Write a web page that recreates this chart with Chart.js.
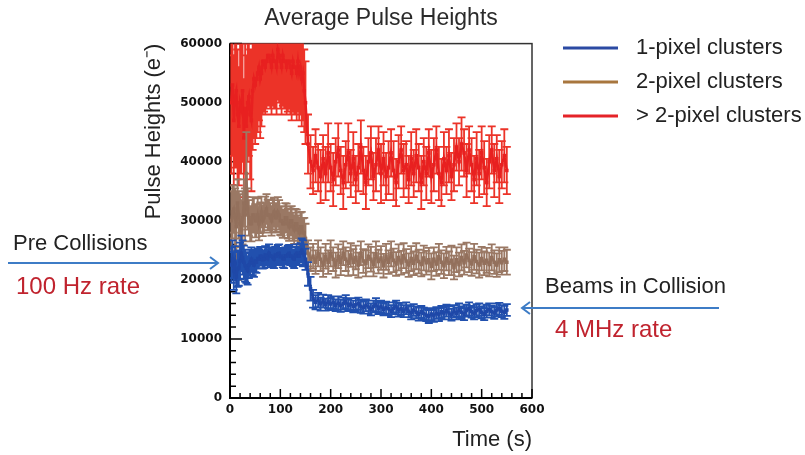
<!DOCTYPE html>
<html>
<head>
<meta charset="utf-8">
<script src="https://cdn.jsdelivr.net/npm/chart.js@4.4.0/dist/chart.umd.min.js"></script>
<style>
  html, body { margin: 0; padding: 0; background: #fff; }
  #wrap { width: 805px; height: 455px; }
</style>
</head>
<body>
<div id="wrap"><canvas id="pulseChart" width="805" height="455"></canvas></div>
<script>
// time bins (s): finer before collisions, 5 s after
const times = [
  2.5, 5, 7.5, 10, 12.5, 15, 17.5, 20, 22.5, 25,
  27.5, 30, 32.5, 35, 37.5, 40, 42.5, 45, 47.5, 50,
  52.5, 55, 57.5, 60, 62.5, 65, 67.5, 70, 72.5, 75,
  77.5, 80, 82.5, 85, 87.5, 90, 92.5, 95, 97.5, 100,
  102.5, 105, 107.5, 110, 112.5, 115, 117.5, 120, 122.5, 125,
  127.5, 130, 132.5, 135, 137.5, 140, 142.5, 145, 147.5, 150,
  155, 160, 165, 170, 175, 180, 185, 190, 195, 200,
  205, 210, 215, 220, 225, 230, 235, 240, 245, 250,
  255, 260, 265, 270, 275, 280, 285, 290, 295, 300,
  305, 310, 315, 320, 325, 330, 335, 340, 345, 350,
  355, 360, 365, 370, 375, 380, 385, 390, 395, 400,
  405, 410, 415, 420, 425, 430, 435, 440, 445, 450,
  455, 460, 465, 470, 475, 480, 485, 490, 495, 500,
  505, 510, 515, 520, 525, 530, 535, 540, 545, 550
];

// 1-pixel clusters
const onePixel = [
  22500, 23500, 21500, 22800, 20500, 21800, 22000, 23200, 24500, 23800,
  23000, 22400, 22000, 21600, 22500, 23000, 23500, 22800, 22500, 23200,
  23000, 23600, 23500, 24000, 24000, 23400, 23500, 24200, 24000, 23600,
  24500, 24100, 24000, 23800, 23500, 24200, 24000, 24400, 24500, 23900,
  24000, 23600, 23500, 24100, 24000, 24300, 24500, 24000, 24000, 23700,
  23500, 24200, 24500, 24000, 24000, 24600, 25000, 24500, 24200, 23500,
  21000, 18500, 16800, 16200, 16600, 15900, 16400, 15800, 16300, 15900,
  16200, 15700, 16100, 15600, 16000, 16300, 15700, 15900, 15500, 15800,
  16000, 15500, 15300, 15700, 15400, 15000, 15500, 15800, 15200, 15500,
  15000, 15300, 15100, 14700, 15200, 15500, 14900, 15100, 14700, 15200,
  14700, 14400, 14900, 14500, 14200, 14600, 14300, 14000, 13800, 14200,
  13900, 14400, 14100, 14600, 14300, 14800, 14400, 14100, 14700, 14300,
  14900, 14500, 14200, 14800, 15100, 14600, 14300, 14800, 15000, 14500,
  14200, 14700, 15000, 14600, 14400, 14900, 15100, 14700, 14500, 14900
];
const onePixelErr = [
  3000, 3200, 3200, 2900, 2800, 3000, 3000, 3100, 3000, 2900,
  2800, 2700, 2500, 2400, 2200, 2100, 2000, 2000, 2000, 1900,
  1800, 1700, 1600, 1600, 1600, 1500, 1500, 1500, 1500, 1500,
  1500, 1400, 1400, 1500, 1500, 1400, 1400, 1500, 1500, 1400,
  1400, 1500, 1500, 1400, 1400, 1500, 1400, 1500, 1500, 1400,
  1500, 1400, 1500, 1500, 1400, 1600, 2000, 2200, 1800, 1800,
  2000, 2000, 1500, 1200, 1200, 1100, 1100, 1000, 1100, 1000,
  1000, 1000, 1100, 1000, 1000, 1100, 1000, 1000, 1000, 1100,
  1000, 1100, 1000, 1000, 1100, 1000, 1000, 1100, 1000, 1000,
  1000, 1000, 1100, 1000, 1000, 1000, 1100, 1000, 1000, 1000,
  1000, 1100, 1000, 1000, 1100, 1000, 1000, 1000, 1100, 1000,
  1000, 1000, 1100, 1000, 1000, 1000, 1100, 1000, 1000, 1000,
  1100, 1000, 1000, 1000, 1100, 1000, 1000, 1100, 1000, 1000,
  1000, 1100, 1000, 1000, 1000, 1100, 1000, 1000, 1100, 1000
];

// 2-pixel clusters
const twoPixel = [
  30000, 31500, 32000, 30500, 29000, 33000, 31000, 29500, 28500, 30500,
  33000, 31000, 38000, 32000, 30500, 29500, 29500, 31000, 31000, 30000,
  30000, 31000, 29500, 30500, 31500, 30000, 30500, 31500, 32000, 31000,
  31000, 30500, 30000, 31000, 31500, 30500, 30500, 31500, 31000, 30000,
  30000, 29500, 29500, 30500, 30500, 29500, 29000, 30000, 30000, 29000,
  28500, 29500, 29500, 28500, 28000, 29000, 29000, 28000, 28000, 27000,
  24500, 23500, 24000, 23000, 24500, 23500, 22500, 24000, 23000, 24500,
  23500, 22500, 24000, 23000, 24500, 23500, 22800, 24200, 23000, 23800,
  22500, 24500, 23200, 22800, 24000, 23500, 22600, 24300, 23100, 23700,
  22400, 23900, 23000, 24400, 23300, 22700, 23800, 22900, 24100, 23200,
  22500, 23600, 22800, 24000, 23100, 22600, 23700, 22900, 23400, 22300,
  23500, 22700, 23900, 23000, 22400, 23600, 22800, 23300, 22100, 23400,
  22600, 23800, 22900, 24200, 23300, 22700, 23900, 23100, 22500, 23600,
  22800, 23300, 22600, 23800, 23000, 22500, 23400, 22900, 23500, 23000
];
const twoPixelErr = [
  5000, 4500, 4000, 5000, 6000, 4000, 4000, 5000, 5000, 4500,
  4000, 4500, 7000, 3500, 3000, 3000, 3000, 3000, 3000, 2800,
  2800, 2800, 2800, 2600, 2600, 2600, 2500, 2600, 2500, 2600,
  2600, 2500, 2500, 2500, 2400, 2500, 2400, 2500, 2500, 2400,
  2500, 2400, 2400, 2500, 2400, 2500, 2400, 2400, 2500, 2400,
  2400, 2500, 2400, 2400, 2500, 2400, 2500, 2400, 2500, 2500,
  2200, 2000, 2100, 2000, 2200, 2000, 2000, 2100, 2000, 2200,
  2000, 2100, 2000, 2200, 2000, 2000, 2100, 2000, 2200, 2000,
  2100, 2000, 2000, 2200, 2000, 2100, 2000, 2200, 2000, 2000,
  2000, 2200, 2000, 2100, 2000, 2000, 2200, 2000, 2100, 2000,
  2000, 2100, 2000, 2200, 2000, 2000, 2100, 2000, 2000, 2200,
  2000, 2000, 2200, 2000, 2100, 2000, 2000, 2500, 2000, 2100,
  2000, 2200, 2000, 2100, 2000, 2000, 2200, 2000, 2100, 2000,
  2000, 2100, 2000, 2200, 2000, 2000, 2100, 2000, 2000, 2100
];

// > 2-pixel clusters
const multiPixel = [
  50000, 53000, 47000, 51000, 52000, 48000, 46000, 50000, 49000, 52000,
  44000, 49000, 46000, 50000, 51000, 48000, 47000, 52000, 54000, 53000,
  54000, 55000, 56000, 54000, 55000, 57000, 57000, 56000, 57000, 58000,
  58000, 57000, 56000, 58000, 57000, 57000, 56000, 59000, 58000, 57000,
  56000, 58000, 57000, 57000, 56000, 57000, 57000, 56000, 55000, 57000,
  56000, 56000, 55000, 57000, 55000, 56000, 54000, 55000, 52000, 50000,
  43000, 40000, 38500, 41000, 39000, 37500, 40500, 38000, 41500, 39000,
  37000, 40000, 42000, 38500, 36500, 39500, 41500, 38000, 40500, 37000,
  39000, 42500, 38500, 36500, 40000, 41500, 37500, 39500, 42000, 38000,
  40500, 37500, 39000, 41500, 38500, 36500, 40000, 42000, 38500, 39500,
  37000, 40500, 38000, 41000, 39000, 36500, 40000, 38000, 41500, 37500,
  39500, 42000, 38000, 36500, 40500, 38500, 41000, 37500, 39500, 42500,
  40000, 43000, 41500, 38500, 42000, 39500, 37000, 40500, 38000, 41500,
  39000, 36500, 40000, 42000, 38500, 40500, 37500, 39500, 41000, 38500
];
const multiPixelErr = [
  12000, 12000, 11000, 12000, 13000, 11000, 10000, 12000, 11000, 12000,
  10000, 11000, 12000, 10000, 10000, 11000, 12000, 10000, 10000, 10000,
  10000, 10000, 9000, 10000, 9000, 9000, 8500, 8000, 8000, 8500,
  8500, 8000, 8000, 8500, 8000, 8000, 8000, 8500, 8000, 8000,
  8000, 8500, 8000, 8000, 8000, 8500, 8000, 8000, 8000, 8500,
  8000, 8000, 8000, 8500, 8000, 8000, 8000, 8000, 7000, 7000,
  5000, 4500, 4000, 4500, 4000, 4500, 4000, 4500, 5000, 4000,
  4500, 4000, 4500, 4000, 4500, 4000, 5000, 4000, 4500, 4000,
  4000, 4500, 4000, 4500, 4000, 4500, 4000, 4500, 4000, 5000,
  4500, 4000, 4500, 4000, 5000, 4000, 4500, 4000, 4500, 4000,
  4000, 4500, 4000, 4500, 4000, 4500, 4000, 4500, 4000, 4500,
  4500, 4000, 4500, 4000, 4500, 4000, 4500, 4000, 4500, 4000,
  4000, 4500, 4000, 4500, 4000, 4500, 4000, 4500, 4000, 4500,
  4500, 4000, 4500, 4000, 4500, 4000, 4500, 4000, 4500, 4000
];

const seriesNames = ['1-pixel clusters', '2-pixel clusters', '> 2-pixel clusters'];
const yTickLabels = [0, 10000, 20000, 30000, 40000, 50000, 60000];
const xTickLabels = [0, 100, 200, 300, 400, 500, 600];

const FONT = '"Liberation Sans", Arial, sans-serif';

// error bars with caps, drawn under each dataset's points
const errorBars = {
  id: 'errorBars',
  beforeDatasetDraw(chart, args) {
    const ds = chart.data.datasets[args.index];
    if (!ds.errors) return;
    const { ctx, chartArea: a, scales: { x, y } } = chart;
    ctx.save();
    ctx.beginPath();
    ctx.rect(a.left, a.top, a.width, a.height);
    ctx.clip();
    ctx.strokeStyle = ds.errorColor;
    ctx.lineWidth = 1.8;
    ctx.beginPath();
    ds.data.forEach((pt, i) => {
      const px = x.getPixelForValue(pt.x);
      const lo = y.getPixelForValue(pt.y - ds.errors[i]);
      const hi = y.getPixelForValue(pt.y + ds.errors[i]);
      ctx.moveTo(px, lo); ctx.lineTo(px, hi);
      ctx.moveTo(px - 4, lo); ctx.lineTo(px + 4, lo);
      ctx.moveTo(px - 4, hi); ctx.lineTo(px + 4, hi);
    });
    ctx.stroke();
    ctx.restore();
  }
};

// ROOT-like frame with inward ticks
const frame = {
  id: 'frame',
  beforeDatasetsDraw(chart) {
    const { ctx, chartArea: a, scales: { x, y } } = chart;
    ctx.save();
    ctx.strokeStyle = '#333';
    ctx.lineWidth = 1.5;
    ctx.strokeRect(a.left, a.top, a.width, a.height);
    ctx.strokeStyle = '#000';
    ctx.lineWidth = 2;
    ctx.beginPath();
    ctx.moveTo(a.left, a.top);
    ctx.lineTo(a.left, a.bottom);
    ctx.lineTo(a.right, a.bottom);
    ctx.stroke();
    ctx.lineWidth = 1.5;
    ctx.beginPath();
    y.ticks.forEach(t => {
      const py = y.getPixelForValue(t.value);
      const len = yTickLabels.includes(t.value) ? 12 : 6;
      ctx.moveTo(a.left, py); ctx.lineTo(a.left + len, py);
    });
    x.ticks.forEach(t => {
      const px = x.getPixelForValue(t.value);
      const len = xTickLabels.includes(t.value) ? 9 : 5;
      ctx.moveTo(px, a.bottom); ctx.lineTo(px, a.bottom - len);
    });
    ctx.stroke();
    ctx.restore();
  }
};

// legend on the right and the two rate annotations with arrows
const annotations = {
  id: 'annotations',
  afterDraw(chart) {
    const ctx = chart.ctx;
    ctx.save();
    ctx.textBaseline = 'middle';
    ctx.textAlign = 'left';

    const legendY = [48, 82, 116];
    chart.data.datasets.forEach((ds, i) => {
      ctx.strokeStyle = ds.legendColor;
      ctx.lineWidth = 3;
      ctx.beginPath();
      ctx.moveTo(563, legendY[i]);
      ctx.lineTo(618, legendY[i]);
      ctx.stroke();
      ctx.fillStyle = '#222';
      ctx.font = '22px ' + FONT;
      ctx.fillText(ds.label, 636, legendY[i]);
    });

    const arrow = (x0, x1, yy) => {
      const dir = x1 > x0 ? 1 : -1;
      ctx.strokeStyle = '#3d7cc6';
      ctx.lineWidth = 2;
      ctx.beginPath();
      ctx.moveTo(x0, yy);
      ctx.lineTo(x1, yy);
      ctx.moveTo(x1 - dir * 8, yy - 6);
      ctx.lineTo(x1, yy);
      ctx.lineTo(x1 - dir * 8, yy + 6);
      ctx.stroke();
    };
    arrow(8, 218, 263);
    arrow(719, 522, 308);

    ctx.fillStyle = '#222';
    ctx.font = '22px ' + FONT;
    ctx.fillText('Pre Collisions', 13, 244);
    ctx.fillText('Beams in Collision', 545, 287);
    ctx.fillStyle = '#c0232e';
    ctx.font = '24px ' + FONT;
    ctx.fillText('100 Hz rate', 16, 287);
    ctx.fillText('4 MHz rate', 555, 330);
    ctx.restore();
  }
};

const toPoints = vals => vals.map((v, i) => ({ x: times[i], y: v }));

const datasets = [
  {
    label: seriesNames[0],
    data: toPoints(onePixel),
    errors: onePixelErr,
    errorColor: '#2150ae',
    legendColor: '#2b4aa3',
    borderColor: '#1f48a8',
    backgroundColor: '#1f48a8'
  },
  {
    label: seriesNames[1],
    data: toPoints(twoPixel),
    errors: twoPixelErr,
    errorColor: '#9a7864',
    legendColor: '#a8763e',
    borderColor: '#93705c',
    backgroundColor: '#93705c'
  },
  {
    label: seriesNames[2],
    data: toPoints(multiPixel),
    errors: multiPixelErr,
    errorColor: '#ec3328',
    legendColor: '#e52328',
    borderColor: '#e82020',
    backgroundColor: '#e82020'
  }
].map(ds => Object.assign(ds, {
  borderWidth: 2.5,
  pointStyle: 'rect',
  pointRadius: 2.5,
  pointBorderWidth: 0,
  tension: 0
}));

new Chart(document.getElementById('pulseChart'), {
  type: 'line',
  data: { datasets },
  options: {
    responsive: false,
    animation: false,
    events: [],
    layout: { padding: { left: 140, right: 273, top: 0, bottom: 0 } },
    plugins: {
      legend: { display: false },
      tooltip: { enabled: false },
      title: {
        display: true,
        text: 'Average Pulse Heights',
        fullSize: false,
        color: '#2a2a2a',
        font: { family: FONT, size: 23, weight: 'normal' },
        padding: { top: 5, bottom: 11 }
      }
    },
    scales: {
      x: {
        type: 'linear',
        min: 0,
        max: 600,
        grid: { display: false, drawTicks: false },
        border: { display: false },
        ticks: {
          stepSize: 20,
          autoSkip: false,
          maxRotation: 0,
          padding: 5,
          color: '#111',
          font: { family: '"DejaVu Sans"', size: 12, weight: 'bold' },
          callback: v => xTickLabels.includes(v) ? String(v) : ''
        },
        title: {
          display: true,
          text: 'Time (s)',
          align: 'end',
          color: '#222',
          font: { family: FONT, size: 22 },
          padding: { top: 0, bottom: 2 }
        },
        afterFit: s => { s.height = 57; }
      },
      y: {
        min: 0,
        max: 60000,
        grid: { display: false, drawTicks: false },
        border: { display: false },
        ticks: {
          stepSize: 2000,
          autoSkip: false,
          padding: 8,
          color: '#111',
          font: { family: '"DejaVu Sans"', size: 12, weight: 'bold' },
          callback: v => yTickLabels.includes(v) ? String(v) : ''
        },
        title: {
          display: true,
          text: 'Pulse Heights (e⁻)',
          align: 'end',
          color: '#222',
          font: { family: FONT, size: 22 },
          padding: { top: 1, bottom: 0 }
        },
        afterFit: s => { s.width = 90; }
      }
    }
  },
  plugins: [errorBars, frame, annotations]
});
</script>
</body>
</html>
